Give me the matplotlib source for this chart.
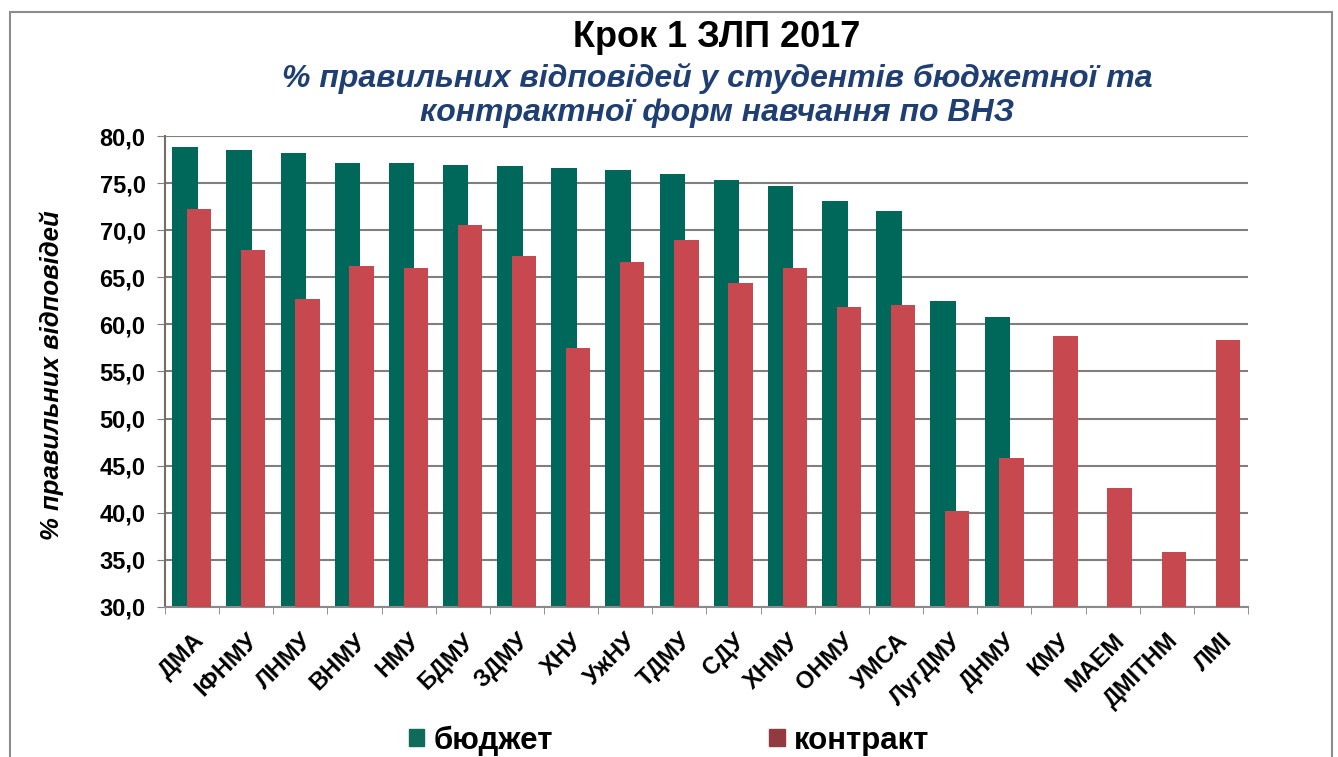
import numpy as np
import matplotlib
matplotlib.use("Agg")
import matplotlib.pyplot as plt
from matplotlib.patches import Patch, Rectangle

plt.rcParams["font.family"] = ["Liberation Sans", "DejaVu Sans"]

# data
categories = ["ДМА", "ІФНМУ", "ЛНМУ", "ВНМУ", "НМУ", "БДМУ", "ЗДМУ", "ХНУ", "УжНУ", "ТДМУ",
              "СДУ", "ХНМУ", "ОНМУ", "УМСА", "ЛугДМУ", "ДНМУ", "КМУ", "МАЕМ", "ДМІТНМ", "ЛМІ"]
budget = [78.8, 78.5, 78.2, 77.1, 77.1, 76.9, 76.8, 76.6, 76.4, 76.0,
          75.3, 74.7, 73.1, 72.0, 62.5, 60.8, np.nan, np.nan, np.nan, np.nan]
contract = [72.3, 67.9, 62.7, 66.2, 66.0, 70.6, 67.3, 57.5, 66.6, 69.0,
            64.4, 66.0, 61.8, 62.1, 40.2, 45.8, 58.8, 42.6, 35.8, 58.3]
yticks = [30, 35, 40, 45, 50, 55, 60, 65, 70, 75, 80]

green = "#00675b"
red = "#c8484f"

fig = plt.figure(figsize=(13.38, 7.57), dpi=100)
ax = fig.add_axes([0.1233, 0.1982, 0.8094, 0.6221])

x = np.arange(len(categories))
ax.bar(x - 0.13, budget, width=0.47, color=green, zorder=2)
ax.bar(x + 0.13, contract, width=0.45, color=red, zorder=3)

ax.set_xlim(-0.5, len(categories) - 0.5)
ax.set_ylim(30, 80)
ax.set_yticks(yticks)
ax.set_yticklabels(["{:.1f}".format(v).replace(".", ",") for v in yticks],
                   fontsize=17, fontweight="bold")
ax.yaxis.grid(True, color="#7f7f7f", linewidth=1.5, zorder=0)
ax.set_axisbelow(True)

ax.set_xticks(x)
ax.set_xticklabels(categories, rotation=45, ha="right", rotation_mode="anchor",
                   fontsize=17, fontweight="bold")
ax.set_xticks(np.arange(-0.5, len(categories)), minor=True)
ax.tick_params(axis="x", which="major", length=0, pad=16)
ax.tick_params(axis="x", which="minor", length=5, color="#7f7f7f")
ax.tick_params(axis="y", length=6, color="#7f7f7f", pad=8)

for s in ["top", "right"]:
    ax.spines[s].set_visible(False)
ax.spines["left"].set_color("#7a6a68")
ax.spines["left"].set_linewidth(1.5)
ax.spines["bottom"].set_color("#8a8a8a")
ax.spines["bottom"].set_linewidth(1.5)

fig.text(52 / 1338, 1 - 375 / 757, "% правильних відповідей", rotation=90,
         ha="center", va="center", fontsize=18.5, fontweight="bold", style="italic")

fig.text(0.536, 0.950, "Крок 1 ЗЛП 2017", ha="center", va="center",
         fontsize=26, fontweight="bold", family=["Liberation Sans Narrow", "Liberation Sans"])
fig.text(0.536, 0.897, "% правильних відповідей у студентів бюджетної та",
         ha="center", va="center", fontsize=23, fontweight="bold", style="italic",
         color="#1f3f73")
fig.text(0.536, 0.851, "контрактної форм навчання по ВНЗ",
         ha="center", va="center", fontsize=23, fontweight="bold", style="italic",
         color="#1f3f73")

handles = [Patch(color="#0f6b5a", label="бюджет"), Patch(color="#913a40", label="контракт")]
fig.legend(handles=handles, loc="center", bbox_to_anchor=(0.5, 0.022), ncol=2,
           frameon=False, prop={"size": 22.5, "weight": "bold"},
           handlelength=0.5, handleheight=0.5, handletextpad=0.3, columnspacing=6.9)

fig.add_artist(Rectangle((10 / 1338, -0.05), 1322 / 1338, 1.05 - 12 / 757,
                         transform=fig.transFigure, fill=False,
                         edgecolor="#8c8c8c", linewidth=1.5))

plt.savefig("out.png", dpi=100)
